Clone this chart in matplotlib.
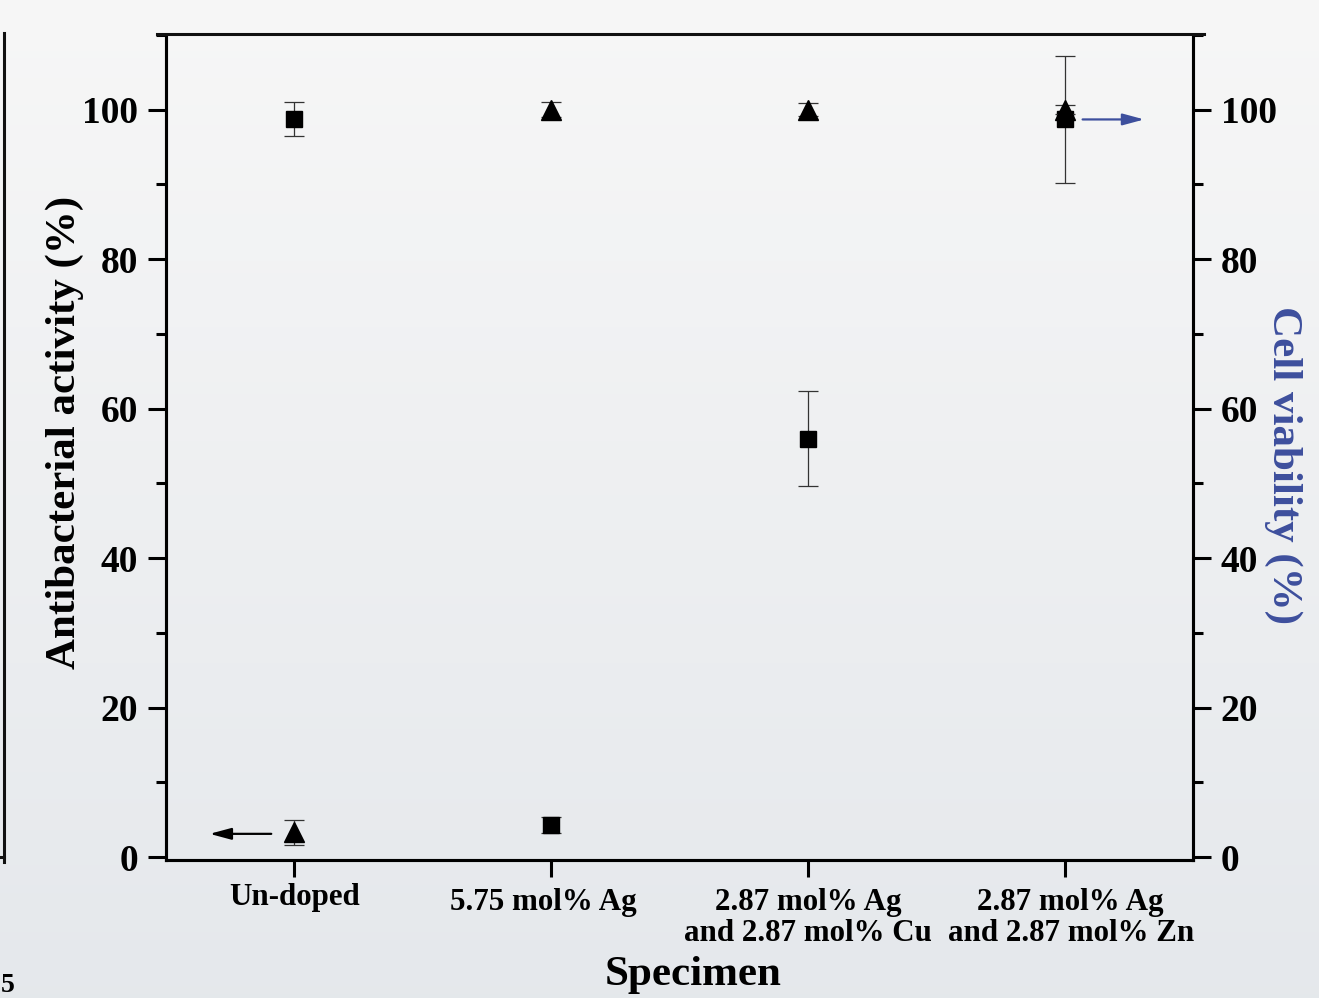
import numpy as np
import matplotlib
matplotlib.use('Agg')
import matplotlib.pyplot as plt
from matplotlib.lines import Line2D
from matplotlib.transforms import ScaledTranslation
from matplotlib.ticker import MultipleLocator

# data
specimens = ['Un-doped', '5.75 mol% Ag',
             '2.87 mol% Ag\nand 2.87 mol% Cu', '2.87 mol% Ag\nand 2.87 mol% Zn']
antibacterial = [98.8, 4.3, 56.0, 98.7]
antibacterial_err = [2.3, 1.1, 6.3, 8.5]
viability = [3.3, 100.0, 100.0, 100.0]
viability_err = [1.7, 1.0, 0.9, 0.6]

BLUE = '#3d4f9d'
plt.rcParams['font.family'] = ['Liberation Serif', 'DejaVu Serif']
plt.rcParams['font.weight'] = 'bold'

W, H = 1319, 998
fig = plt.figure(figsize=(W / 100, H / 100), dpi=100)

# light grey gradient background
bg = fig.add_axes([0, 0, 1, 1], zorder=-10)
grad = np.linspace(0, 1, 256).reshape(-1, 1)
top_c = np.array([0.968, 0.968, 0.968])
bot_c = np.array([0.898, 0.910, 0.925])
img = top_c + (bot_c - top_c) * grad[:, :, None]
bg.imshow(img, aspect='auto', extent=[0, 1, 0, 1], origin='upper')
bg.axis('off')

ax = fig.add_axes([166/W, 1 - 860/H, (1193 - 166)/W, (860 - 35)/H])
ax.patch.set_alpha(0)
x = np.arange(1, len(specimens) + 1)

ax.errorbar(x, antibacterial, yerr=antibacterial_err, fmt='s', color='black',
            markersize=11, ecolor='#333333', elinewidth=0.9, capsize=7,
            capthick=0.9, zorder=3)
ax2 = ax.twinx()
ax2.errorbar(x, viability, yerr=viability_err, fmt='^', color='black',
             markersize=14, ecolor='#333333', elinewidth=0.9, capsize=7,
             capthick=0.9, zorder=3)

for a in (ax, ax2):
    a.set_xlim(0.5, 4.5)
    a.set_ylim(-0.4, 110)
    a.yaxis.set_major_locator(MultipleLocator(20))
    a.yaxis.set_minor_locator(MultipleLocator(10))
    for s in a.spines.values():
        s.set_linewidth(2.2)
    a.spines['top'].set_visible(False)
    a.tick_params(axis='y', which='major', direction='out', length=13,
                  width=2.2, labelsize=27, pad=7)
    a.tick_params(axis='y', which='minor', direction='out', length=7,
                  width=2.2)

ax.tick_params(axis='x', which='major', direction='out', length=12, width=2.2,
               labelsize=22.3, pad=8)

ax.set_xticks(x)
ax.set_xticklabels(specimens, linespacing=1.1)
# small per-label shifts seen in the original (pixels)
shifts = [(0, 5), (-8, 0), (0, 0), (6, 0)]
for lab, (dx, dy) in zip(ax.get_xticklabels(), shifts):
    lab.set_transform(lab.get_transform()
                      + ScaledTranslation(dx/100, dy/100, fig.dpi_scale_trans))

# axis titles
fig.text(65/W, 1 - 432/H, 'Antibacterial activity (%)', fontsize=31,
         fontweight='bold', rotation=90, ha='center', va='center')
fig.text(1283/W, 1 - 465/H, 'Cell viability (%)', fontsize=31,
         fontweight='bold', color=BLUE, rotation=-90, ha='center', va='center')
fig.text(693/W, 1 - 975/H, 'Specimen', fontsize=31, fontweight='bold',
         ha='center', va='center')

# arrows pointing to the matching axis
ax.annotate('', xy=(0.67, 3.1), xytext=(0.91, 3.1),
            arrowprops=dict(arrowstyle='-|>,head_length=1.3,head_width=0.35',
                            color='black', lw=1.6, shrinkA=0, shrinkB=0))
ax.annotate('', xy=(4.31, 98.7), xytext=(4.07, 98.7),
            arrowprops=dict(arrowstyle='-|>,head_length=1.3,head_width=0.35',
                            color=BLUE, lw=1.6, shrinkA=0, shrinkB=0))

# top frame line running slightly past the spines
fig.add_artist(Line2D([157/W, 1204/W], [1 - 34/H, 1 - 34/H],
                      color='#111111', lw=2.2))
# edge of the neighbouring panel
fig.add_artist(Line2D([4/W, 4/W], [1 - 33/H, 1 - 862/H],
                      color='#111111', lw=2.2))
fig.add_artist(Line2D([0, 4/W], [1 - 857/H, 1 - 857/H],
                      color='#111111', lw=2.2))
fig.text(1/W, 1 - 986/H, '5', fontsize=20, ha='left', va='center')

fig.savefig('out.png', dpi=100)
